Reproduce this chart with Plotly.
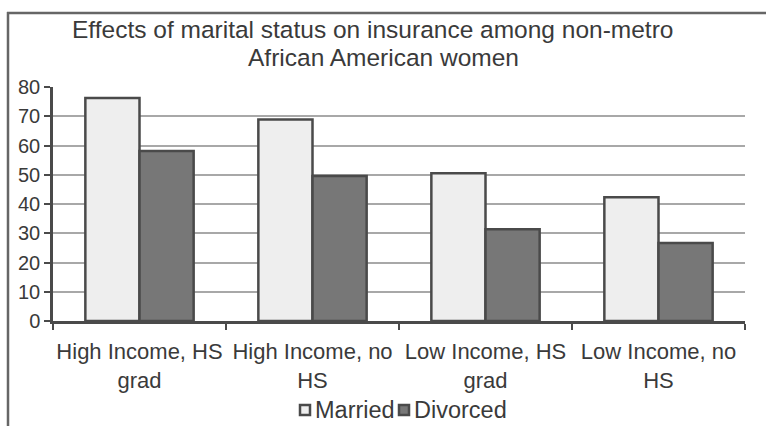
import plotly.graph_objects as go

categories = ["High Income, HS<br>grad", "High Income, no<br>HS", "Low Income, HS<br>grad", "Low Income, no<br>HS"]
married = [76.2, 68.9, 50.5, 42.3]
divorced = [58.1, 49.6, 31.4, 26.7]
y_ticks = [0, 10, 20, 30, 40, 50, 60, 70, 80]
title_lines = ["Effects of marital status on insurance among non-metro", "African American women"]

FONT = "Liberation Sans, Arial, sans-serif"
TEXT = "#3a3a3a"
EDGE = "#4a4a4a"
MARRIED_FILL = "#eeeeee"
DIVORCED_FILL = "#777777"

fig = go.Figure()
fig.add_trace(go.Bar(
    name="Married", x=categories, y=married,
    marker=dict(color=MARRIED_FILL, line=dict(color=EDGE, width=2.5)),
))
fig.add_trace(go.Bar(
    name="Divorced", x=categories, y=divorced,
    marker=dict(color=DIVORCED_FILL, line=dict(color=EDGE, width=2.5)),
))

# plot area in pixels: left 53, right 745, top 87, bottom 321
L, R, T, B = 53, 745, 87, 321
W, H = 766, 426
pw, ph = R - L, B - T


def px_x(x):
    return (x - L) / pw


def px_y(y):
    return (B - y) / ph


annotations = [
    dict(text=title_lines[0], x=px_x(372), y=px_y(30)),
    dict(text=title_lines[1], x=px_x(383), y=px_y(57)),
]
for a in annotations:
    a.update(xref="paper", yref="paper", xanchor="center", yanchor="middle",
             showarrow=False, font=dict(size=24.5, color=TEXT, family=FONT))

# chart frame: only its top and left edges fall inside the page
frame = dict(color="#666666", width=2.5)
shapes = [
    dict(type="line", xref="paper", yref="paper",
         x0=px_x(7), x1=px_x(W + 5), y0=px_y(13), y1=px_y(13), line=frame),
    dict(type="line", xref="paper", yref="paper",
         x0=px_x(8), x1=px_x(8), y0=px_y(12), y1=px_y(H + 5), line=frame),
]

# hand-placed legend: small outlined square followed by the series name
legend_items = [(fig.data[0].name, MARRIED_FILL, 300), (fig.data[1].name, DIVORCED_FILL, 399)]
for name, fill, x0 in legend_items:
    shapes.append(dict(
        type="rect", xref="paper", yref="paper",
        x0=px_x(x0), x1=px_x(x0 + 10), y0=px_y(415), y1=px_y(405),
        line=dict(color=EDGE, width=2.5), fillcolor=fill,
    ))
    annotations.append(dict(
        text=name, xref="paper", yref="paper", x=px_x(x0 + 13), y=px_y(410),
        xanchor="left", yanchor="middle", showarrow=False,
        font=dict(size=23.5, color=TEXT, family=FONT),
    ))

fig.update_layout(
    width=W, height=H,
    margin=dict(l=L, r=W - R, t=T, b=H - B, pad=0),
    paper_bgcolor="white", plot_bgcolor="white",
    barmode="group", bargap=0.374, bargroupgap=0,
    font=dict(family=FONT, color=TEXT, size=21),
    showlegend=False,
    xaxis=dict(
        showline=True, linecolor=EDGE, linewidth=2.5, automargin=False, tickangle=0,
        ticks="outside", tickson="boundaries", ticklen=6, tickwidth=2, tickcolor=EDGE,
        ticklabelstandoff=9,
        tickfont=dict(size=22, color=TEXT), showgrid=False,
    ),
    yaxis=dict(
        range=[0, 80], tickvals=y_ticks, showline=True, linecolor=EDGE, linewidth=2.5,
        automargin=False, ticks="outside", ticklen=6, tickwidth=2, tickcolor=EDGE,
        tickfont=dict(size=20, color=TEXT),
        showgrid=True, gridcolor="#a8a8a8", gridwidth=2, zeroline=False,
    ),
    annotations=annotations,
    shapes=shapes,
)

fig.write_html("out.html", config={"displayModeBar": False})
